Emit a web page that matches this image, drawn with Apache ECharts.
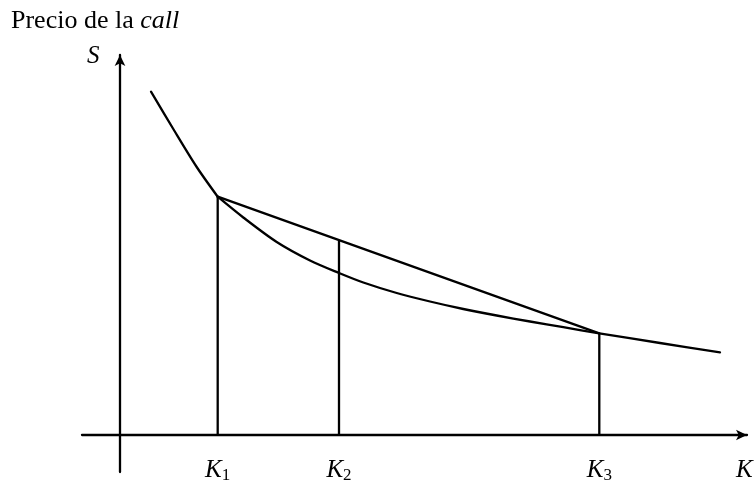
<!DOCTYPE html>
<html>
<head>
<meta charset="utf-8">
<script src="https://cdn.jsdelivr.net/npm/echarts@6/dist/echarts.min.js"></script>
<style>
  html, body { margin: 0; padding: 0; background: #fff; }
  #chart { width: 754px; height: 489px; }
</style>
</head>
<body>
<div id="chart"></div>
<script>
// curva convexa del precio de la call (K, C); el punto K1 separa los dos tramos
var curveK = [3.1, 5.33, 7.67, 9.77, 12.33, 15.67, 19.0, 21.9, 24.33, 27.67, 31.0, 34.33, 37.67, 41.0, 44.33, 47.93, 54.0, 60.0];
var curveC = [34.33, 30.6, 26.8, 23.83, 21.75, 19.3, 17.45, 16.2, 15.25, 14.2, 13.35, 12.6, 11.95, 11.35, 10.78, 10.17, 9.2, 8.27];

// strikes K1, K2, K3 y altura de cada segmento vertical
var strikes = [9.77, 21.9, 47.93];
var strikeTops = [23.83, 19.4, 10.17];
var strikeSubs = ['1', '2', '3'];

var serif = '"Liberation Serif", "DejaVu Serif", serif';
var black = '#000';

var chart = echarts.init(document.getElementById('chart'));

var leftData = [];
var rightData = [];
for (var i = 0; i < curveK.length; i++) {
  if (curveK[i] <= strikes[0]) leftData.push([curveK[i], curveC[i]]);
  if (curveK[i] >= strikes[0]) rightData.push([curveK[i], curveC[i]]);
}
// cuerda entre K1 y K3
var chordData = [[strikes[0], strikeTops[0]], [strikes[2], strikeTops[2]]];

var lineStyle = { color: black, width: 2.3, cap: 'round', join: 'round' };

var series = [{
  type: 'line',
  data: leftData,
  smooth: 0.3,
  symbol: 'none',
  lineStyle: lineStyle
}, {
  type: 'line',
  data: rightData,
  smooth: 0.3,
  symbol: 'none',
  lineStyle: lineStyle
}, {
  type: 'line',
  data: chordData,
  symbol: 'none',
  lineStyle: lineStyle
}];
// verticales en cada strike
for (var j = 0; j < strikes.length; j++) {
  series.push({
    type: 'line',
    data: [[strikes[j], 0], [strikes[j], strikeTops[j]]],
    symbol: 'none',
    lineStyle: { color: black, width: 2.3 }
  });
}

chart.setOption({
  animation: false,
  backgroundColor: '#fff',
  grid: { left: 82, right: 7, top: 55, bottom: 17, containLabel: false, outerBoundsMode: 'none' },
  xAxis: {
    type: 'value',
    min: -3.8,
    max: 62.7,
    axisLine: {
      onZero: true,
      symbol: ['none', 'arrow'],
      symbolSize: [8, 11],
      lineStyle: { color: black, width: 2.3 }
    },
    axisTick: { show: false },
    splitLine: { show: false },
    axisLabel: {
      customValues: strikes,
      margin: -16,
      formatter: function (v) {
        var idx = strikes.indexOf(v);
        return '{k|K}{n|' + strikeSubs[idx] + '}';
      },
      rich: {
        k: { fontFamily: serif, fontStyle: 'italic', fontSize: 25, lineHeight: 28, color: black },
        n: { fontFamily: serif, fontSize: 17, lineHeight: 17, verticalAlign: 'bottom', color: black }
      }
    }
  },
  yAxis: {
    type: 'value',
    min: -3.7,
    max: 38,
    axisLine: {
      onZero: true,
      symbol: ['none', 'arrow'],
      symbolSize: [8, 11],
      lineStyle: { color: black, width: 2.3 }
    },
    axisTick: { show: false },
    splitLine: { show: false },
    axisLabel: { show: false }
  },
  graphic: [{
    type: 'text',
    left: 11,
    top: 8,
    style: {
      text: '{r|Precio de la }{i|call}',
      rich: {
        r: { fontFamily: serif, fontSize: 26, fill: black },
        i: { fontFamily: serif, fontSize: 26, fontStyle: 'italic', fill: black }
      }
    }
  }, {
    type: 'text',
    left: 87,
    top: 44,
    style: { text: 'S', font: 'italic 25px ' + serif, fill: black }
  }, {
    type: 'text',
    left: 736,
    top: 458,
    style: { text: 'K', font: 'italic 25px ' + serif, fill: black }
  }],
  series: series
});
</script>
</body>
</html>
